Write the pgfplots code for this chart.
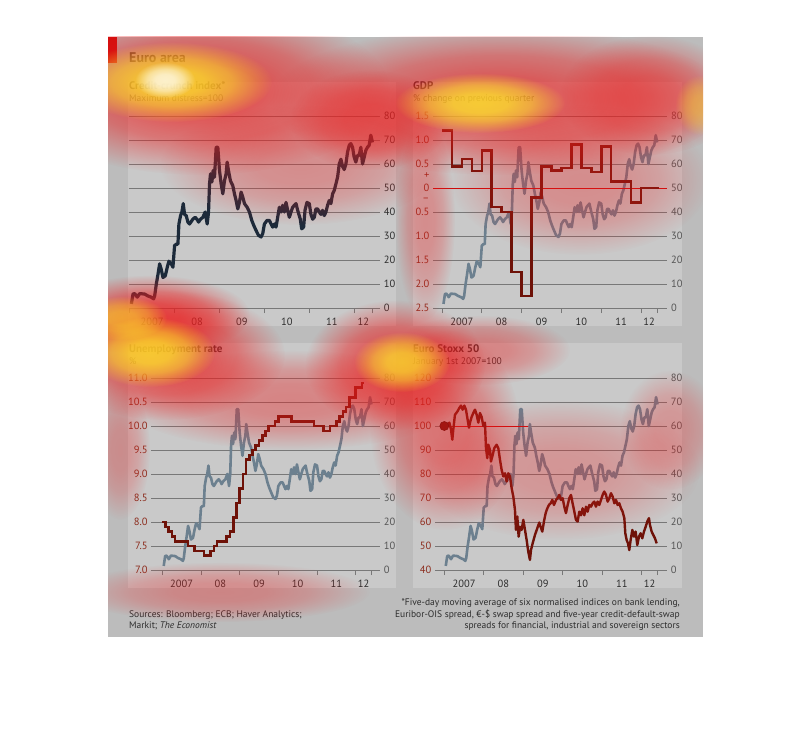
\documentclass[border=0pt]{standalone}
\usepackage{fontspec}
\setmainfont{PT Sans}
\usepackage{pgfplots}
\pgfplotsset{compat=1.18}
\usepackage{pgfplotstable}
\usetikzlibrary{fadings}

\pgfdeclareradialshading{heatshade}{\pgfpointorigin}{color(0bp)=(pgftransparent!0); color(8bp)=(pgftransparent!6); color(15bp)=(pgftransparent!32); color(20bp)=(pgftransparent!66); color(25bp)=(pgftransparent!100); color(50bp)=(pgftransparent!100)}
\pgfdeclarefading{heat}{\pgfuseshading{heatshade}}

\definecolor{framebg}{RGB}{188,188,188}
\definecolor{panelbg}{RGB}{201,201,201}
\definecolor{gridc}{RGB}{120,120,120}
\definecolor{credit}{RGB}{28,42,58}
\definecolor{creditgrey}{RGB}{108,128,143}
\definecolor{dred}{RGB}{110,18,8}
\definecolor{lblred}{RGB}{140,45,30}
\definecolor{lblgrey}{RGB}{85,85,85}
\definecolor{txt}{RGB}{45,45,45}
\definecolor{ered}{RGB}{205,10,10}
\definecolor{heatred}{RGB}{235,30,30}
\definecolor{heatyel}{RGB}{255,240,40}

\pgfplotstableread{
x y
0.037 1.7
0.074 5.8
0.111 6
0.170 4.5
0.222 6
0.333 5.8
0.407 5
0.481 4.5
0.533 3.8
0.556 5
0.593 10
0.630 14
0.667 18.4
0.704 16
0.741 12.7
0.793 13.4
0.837 17
0.874 19.5
0.926 18.4
0.963 17
1.000 26
1.037 26.6
1.074 26.6
1.096 35
1.133 38.5
1.163 40
1.193 43.5
1.222 39
1.259 38.5
1.296 35.8
1.333 35
1.370 36
1.407 37
1.459 37.8
1.504 36.8
1.533 35.8
1.578 37
1.630 37.8
1.681 40
1.726 35
1.756 40
1.778 51.7
1.800 55.9
1.830 52.5
1.859 57.3
1.889 54.5
1.926 67
1.963 67
2.000 57.3
2.037 51.7
2.074 47.6
2.111 53
2.148 56
2.170 60.8
2.200 57.3
2.244 53
2.296 51
2.333 47.6
2.370 44.8
2.407 41.3
2.444 44
2.481 48.3
2.519 46.2
2.556 43.5
2.615 42
2.667 40
2.719 36.5
2.763 34.4
2.815 32.3
2.867 30.3
2.926 29.6
2.963 31
3.000 35
3.059 36.5
3.111 36.5
3.148 35
3.185 33.7
3.222 35
3.259 33.7
3.296 37.8
3.333 42
3.370 40
3.407 42.8
3.444 40
3.481 44
3.519 40.7
3.556 37.8
3.593 40
3.630 42
3.667 42.8
3.704 43.5
3.741 40.7
3.800 37
3.830 33
3.874 33.7
3.904 40.7
3.948 44
4.000 43.5
4.037 39
4.074 37
4.111 37.8
4.148 41.3
4.185 41.3
4.222 40
4.259 39
4.296 40.7
4.333 38.5
4.370 40
4.407 42.8
4.444 44.8
4.481 43.5
4.519 47.6
4.556 49
4.593 51.7
4.630 54.5
4.667 60
4.704 62
4.741 59
4.778 57.7
4.815 60
4.852 65
4.889 67.8
4.926 68.5
4.963 67
5.000 62.8
5.037 60.8
5.074 63.6
5.111 63.6
5.148 67
5.185 60
5.222 62.8
5.259 65.7
5.296 67
5.333 67.8
5.370 72
5.407 69
}\credit

\pgfplotstableread{
x y
0 1.2
0.25 0.45
0.5 0.6
0.75 0.35
1.0 0.78
1.25 -0.4
1.5 -0.5
1.75 -1.75
2.0 -2.25
2.25 -0.2
2.5 0.45
2.75 0.37
3.0 0.42
3.25 0.9
3.5 0.42
3.75 0.33
4.0 0.86
4.25 0.13
4.5 0.13
4.75 -0.3
5.0 0.0
5.45 0.0
}\gdp

\pgfplotstableread{
x y
0.000 8.0
0.0833 7.9
0.1667 7.8
0.25 7.7
0.3333 7.6
0.6667 7.5
0.8333 7.4
1.0833 7.3
1.25 7.4
1.3333 7.5
1.4167 7.6
1.6667 7.7
1.75 7.8
1.8333 8.1
1.9167 8.4
2.0 8.7
2.0833 9.0
2.1667 9.3
2.25 9.4
2.3333 9.5
2.4167 9.6
2.5 9.7
2.5833 9.8
2.6667 9.9
2.75 10.0
2.9167 10.1
3.0 10.2
3.3333 10.1
3.9167 10.0
4.1667 9.9
4.3333 10.0
4.5 10.1
4.5833 10.2
4.6667 10.3
4.75 10.4
4.8333 10.6
5.0 10.8
5.1667 10.9
5.217 10.9
}\unemp

\pgfplotstableread{
x y
0 100
0.059 100
0.127 101.4
0.169 98.6
0.203 94.3
0.228 98.6
0.270 104.7
0.330 106
0.380 107.5
0.423 108.5
0.465 106.8
0.507 108.5
0.549 106.8
0.592 102.6
0.626 99.3
0.651 101.4
0.693 103.8
0.735 105.4
0.778 106.8
0.820 104.7
0.862 101.4
0.904 105.4
0.947 103.8
0.989 100
1.031 101.4
1.057 90.8
1.090 86.6
1.116 92.2
1.158 90
1.183 85.2
1.226 87.9
1.268 90.8
1.327 92.2
1.369 90.8
1.412 85.9
1.454 81.7
1.496 79
1.538 80.3
1.581 76.9
1.623 80.3
1.665 79
1.708 74.1
1.750 70.6
1.792 65
1.817 56.7
1.851 62.3
1.885 53.9
1.919 58
1.961 56.7
2.003 60.9
2.046 56.7
2.088 52.5
2.130 47.6
2.172 44.2
2.198 48.3
2.240 51.1
2.299 54.6
2.358 57.4
2.409 59.8
2.443 58
2.485 56
2.527 60.2
2.570 63.7
2.612 65.7
2.654 67.1
2.697 67.8
2.739 69.2
2.781 67.1
2.832 69.2
2.874 69.9
2.916 71.3
2.959 69.2
3.001 69.9
3.043 66.4
3.085 63.7
3.128 67.1
3.170 69.9
3.212 71.3
3.254 67.8
3.297 64.3
3.339 60.9
3.381 60.2
3.423 64.3
3.466 62.8
3.508 65.7
3.550 62.8
3.593 66.4
3.635 64.3
3.677 67.1
3.719 66.4
3.762 67.8
3.804 68.5
3.846 66.4
3.888 68.5
3.931 67.1
3.973 69.2
4.015 71.3
4.057 72.7
4.100 71.3
4.142 68.5
4.184 69.9
4.227 72
4.269 70.6
4.311 67.8
4.353 69.2
4.396 67.1
4.438 67.8
4.480 65.7
4.522 64.3
4.565 61.6
4.590 55.3
4.624 52.5
4.658 51.1
4.691 48.3
4.725 52.5
4.768 56.7
4.810 53.9
4.852 56
4.894 50.4
4.937 53.9
4.979 55.3
5.021 53.2
5.063 56
5.106 58
5.148 60.2
5.190 61.6
5.215 58.8
5.258 56
5.300 54.6
5.342 53.2
5.385 51.1
}\stoxx

\pgfplotsset{
  tlfont/.style={font=\fontsize{10.5}{12}\selectfont},
  panel/.style={
    scale only axis, anchor=south west,
    ymin=0, ymax=80, ytick={0,10,...,80},
    yticklabels={0,10,20,30,40,50,60,70,80},
    axis x line*=bottom, axis y line*=right,
    axis line style={draw=none},
    ymajorgrids, grid style={gridc, line width=0.8pt},
    xtick={0.5,1.5,2.5,3.5,4.5,5.205},
    xticklabels={2007,08,09,10,11,12},
    minor xtick={0,1,2,3,4,5,5.41},
    major tick length=0pt, minor tick length=5pt, tick align=outside,
    minor tick style={gridc, line width=0.8pt},
    ytick style={draw=none},
    xticklabel style={tlfont, text=txt, inner sep=0pt, anchor=north, yshift=-10pt},
    yticklabel style={tlfont, text=lblgrey, inner sep=0pt, anchor=west, xshift=4pt},
  },
  leftscale/.style={
    scale only axis, anchor=south west,
    hide x axis, axis y line*=left, axis line style={draw=none},
    ytick style={draw=none}, major tick length=0pt,
    yticklabel style={tlfont, text=lblred, inner sep=0pt, anchor=east, xshift=-3.5pt},
  },
}

\newcommand{\heat}[6]{\fill[#1, opacity=#2, path fading=heat, fit fading=true] ({#3},{732-#4}) ellipse ({#5pt} and {#6pt});}

\begin{document}
\begin{tikzpicture}[x=1pt,y=1pt]
\path[use as bounding box, fill=white] (0,0) rectangle (810,732);
\fill[framebg] (108,95) rectangle (703,695);
\fill[panelbg] (128,406) rectangle (396,650);
\fill[panelbg] (413,406) rectangle (682,650);
\fill[panelbg] (128,144) rectangle (396,389);
\fill[panelbg] (413,144) rectangle (682,389);
\fill[ered] (108,695) rectangle (117,669);

% Top-left: credit-crunch index
\begin{axis}[panel, at={(128.7pt,424pt)}, width=251pt, height=192pt,
  xmin=-0.022, xmax=5.568, yticklabel style={text=txt}]
\addplot[credit, line width=3.2pt, line join=round] table {\credit};
\end{axis}

% Top-right: GDP
\begin{axis}[panel, at={(433pt,424pt)}, width=234pt, height=192pt,
  xmin=-0.226, xmax=5.653]
\addplot[creditgrey, line width=2.6pt, line join=round] table {\credit};
\end{axis}
\begin{axis}[leftscale, at={(433pt,424pt)}, width=234pt, height=192pt,
  xmin=-0.226, xmax=5.653, ymin=-2.5, ymax=1.5,
  ytick={-2.5,-2,-1.5,-1,-0.5,0,0.5,1,1.5},
  yticklabels={2.5,2.0,1.5,1.0,0.5,0,0.5,1.0,1.5},
  extra y ticks={-0.25,0.25}, extra y tick labels={--,+}]
\addplot[ered, line width=0.9pt] coordinates {(-0.226,0) (5.653,0)};
\addplot[const plot, dred, line width=2.6pt, line join=miter] table {\gdp};
\end{axis}

% Bottom-left: unemployment
\begin{axis}[panel, at={(151.3pt,162pt)}, width=228.4pt, height=192pt,
  xmin=-0.284, xmax=5.62]
\addplot[creditgrey, line width=2.6pt, line join=round] table {\credit};
\end{axis}
\begin{axis}[leftscale, at={(151.3pt,162pt)}, width=228.4pt, height=192pt,
  xmin=-0.284, xmax=5.62, ymin=7, ymax=11,
  ytick={7,7.5,8,8.5,9,9.5,10,10.5,11},
  yticklabels={7.0,7.5,8.0,8.5,9.0,9.5,10.0,10.5,11.0}]
\addplot[const plot, dred, line width=2.6pt, line join=miter] table {\unemp};
\end{axis}

% Bottom-right: Euro Stoxx 50
\begin{axis}[panel, at={(435pt,162pt)}, width=231.7pt, height=192pt,
  xmin=-0.236, xmax=5.64]
\addplot[creditgrey, line width=2.6pt, line join=round] table {\credit};
\end{axis}
\begin{axis}[leftscale, at={(435pt,162pt)}, width=231.7pt, height=192pt,
  xmin=-0.236, xmax=5.64, ymin=40, ymax=120,
  ytick={40,50,...,120},
  yticklabels={40,50,60,70,80,90,100,110,120}]
\addplot[ered, line width=0.9pt] coordinates {(0,100) (2.13,100)};
\addplot[dred, line width=2.4pt, line join=round] table {\stoxx};
\addplot[only marks, mark=*, mark size=4.5pt, mark options={fill=dred!85!black, draw=dred!50!black, line width=0.6pt}] coordinates {(0,100)};
\end{axis}

% Texts
\begin{scope}[every node/.style={inner sep=0pt, text=txt}]
\node[anchor=base west] at (129,669) {\fontsize{14}{16}\selectfont\bfseries Euro area};
\node[anchor=base west] at (129,642) {\fontsize{11}{13}\selectfont\bfseries Credit-crunch index*};
\node[anchor=base west] at (129,630) {\fontsize{9.5}{11}\selectfont Maximum distress=100};
\node[anchor=base west] at (413,642) {\fontsize{11}{13}\selectfont\bfseries GDP};
\node[anchor=base west] at (413,630) {\fontsize{9.5}{11}\selectfont \% change on previous quarter};
\node[anchor=base west] at (129,380) {\fontsize{11}{13}\selectfont\bfseries Unemployment rate};
\node[anchor=base west] at (129,367.5) {\fontsize{9.5}{11}\selectfont \%};
\node[anchor=base west] at (413,380) {\fontsize{11}{13}\selectfont\bfseries Euro Stoxx 50};
\node[anchor=base west] at (413,367.5) {\fontsize{9.5}{11}\selectfont January 1st 2007=100};
\node[anchor=base west] at (129,114.7) {\fontsize{9.5}{11}\selectfont Sources: Bloomberg; ECB; Haver Analytics;};
\node[anchor=base west] at (129,103.7) {\fontsize{9.5}{11}\selectfont Markit; \textit{The Economist}};
\node[anchor=base east] at (680,126.3) {\fontsize{9.5}{11}\selectfont *Five-day moving average of six normalised indices on bank lending,};
\node[anchor=base east] at (680,115) {\fontsize{9.5}{11}\selectfont Euribor-OIS spread, €-\$ swap spread and five-year credit-default-swap};
\node[anchor=base east] at (680,104) {\fontsize{9.5}{11}\selectfont spreads for financial, industrial and sovereign sectors};
\end{scope}

% Attention heat-map overlay (clipped to the chart image)
\begin{scope}
\clip (108,95) rectangle (703,695);
\heat{heatred}{0.70}{200}{90}{190}{85}
\heat{heatred}{0.65}{500}{100}{230}{75}
\heat{heatred}{0.50}{650}{95}{90}{60}
\heat{heatred}{0.50}{370}{120}{80}{50}
\heat{heatred}{0.35}{300}{165}{140}{60}
\heat{heatred}{0.35}{580}{180}{130}{75}
\heat{heatred}{0.35}{425}{220}{30}{100}
\heat{heatred}{0.65}{150}{315}{100}{40}
\heat{heatred}{0.70}{165}{355}{120}{65}
\heat{heatred}{0.70}{395}{365}{90}{65}
\heat{heatred}{0.40}{290}{400}{170}{50}
\heat{heatred}{0.50}{445}{430}{75}{100}
\heat{heatred}{0.30}{560}{470}{140}{70}
\heat{heatred}{0.35}{220}{592}{150}{30}
\heat{heatred}{0.30}{120}{450}{30}{70}
\heat{heatred}{0.30}{670}{430}{50}{60}
\heat{heatred}{0.40}{480}{350}{90}{35}
\heat{heatyel}{0.75}{172}{82}{100}{40}
\heat{heatyel}{0.75}{480}{103}{85}{30}
\heat{heatyel}{0.75}{150}{352}{65}{35}
\heat{heatyel}{0.70}{402}{362}{48}{30}
\heat{heatyel}{0.55}{122}{318}{45}{22}
\heat{heatyel}{0.40}{700}{105}{25}{30}
\heat{white}{0.75}{165}{80}{30}{18}
\end{scope}
\end{tikzpicture}
\end{document}
